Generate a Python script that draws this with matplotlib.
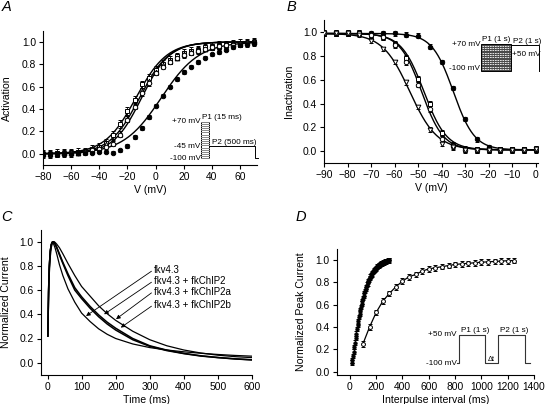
import matplotlib
matplotlib.use('Agg')
import numpy as np
import matplotlib.pyplot as plt
from matplotlib.patches import Rectangle

plt.rcParams['font.family'] = ['Liberation Sans', 'DejaVu Sans']
plt.rcParams['axes.linewidth'] = 0.8

# ---------------- Panel A: activation ----------------
act_v = [-80, -75, -70, -65, -60, -55, -50, -45, -40, -35, -30, -25, -20, -15, -10, -5,
         0, 5, 10, 15, 20, 25, 30, 35, 40, 45, 50, 55, 60, 65, 70]
act_sq = [0.00, 0.00, 0.01, 0.01, 0.01, 0.02, 0.02, 0.04, 0.06, 0.10, 0.17, 0.27, 0.38, 0.48, 0.62, 0.68,
          0.75, 0.80, 0.84, 0.87, 0.90, 0.92, 0.93, 0.95, 0.96, 0.97, 0.97, 0.98, 0.99, 0.99, 1.00]
act_tri = [0.00, 0.00, 0.00, 0.01, 0.01, 0.01, 0.02, 0.03, 0.05, 0.09, 0.10, 0.18, 0.31, 0.43, 0.56, 0.65,
           0.73, 0.79, 0.83, 0.86, 0.89, 0.91, 0.93, 0.94, 0.95, 0.96, 0.97, 0.98, 0.98, 0.99, 1.00]
act_circ = [0.00, 0.00, 0.00, 0.00, 0.01, 0.01, 0.02, 0.03, 0.04, 0.06, 0.09, 0.17, 0.30, 0.42, 0.54, 0.63,
            0.72, 0.78, 0.82, 0.86, 0.88, 0.90, 0.92, 0.94, 0.95, 0.96, 0.97, 0.97, 0.98, 0.99, 1.00]
act_fill = [0.00, 0.00, 0.00, 0.00, 0.00, 0.01, 0.01, 0.01, 0.02, 0.02, 0.01, 0.03, 0.07, 0.15, 0.23, 0.33,
            0.43, 0.52, 0.60, 0.67, 0.73, 0.78, 0.82, 0.86, 0.89, 0.91, 0.93, 0.95, 0.97, 0.98, 0.99]
act_err = [0.035, 0.025, 0.02, 0.015]
# Boltzmann fit parameters (V1/2, slope k)
act_fit = [(-14.0, 11.0), (-11.5, 10.5), (-10.0, 10.0), (4.0, 13.5)]

# ---------------- Panel B: inactivation ----------------
inact_v = [-90, -85, -80, -75, -70, -65, -60, -55, -50, -45, -40, -35, -30, -25, -20, -15, -10, -5, 0]
inact_fill = [0.99, 0.99, 0.99, 0.99, 0.99, 0.99, 0.99, 0.98, 0.97, 0.88, 0.75, 0.53, 0.27, 0.10, 0.03,
              0.01, 0.01, 0.01, 0.01]
inact_sq = [0.99, 0.99, 0.99, 0.99, 0.98, 0.96, 0.90, 0.78, 0.61, 0.40, 0.15, 0.05, 0.02, 0.01, 0.01,
            0.01, 0.01, 0.01, 0.01]
inact_circ = [0.99, 0.99, 0.99, 0.99, 0.98, 0.96, 0.89, 0.75, 0.56, 0.35, 0.10, 0.04, 0.01, 0.01, 0.01,
              0.01, 0.01, 0.01, 0.02]
inact_dtri = [0.99, 0.99, 0.99, 0.98, 0.93, 0.86, 0.75, 0.58, 0.37, 0.18, 0.06, 0.03, 0.01, 0.01, 0.01,
              0.01, 0.01, 0.01, 0.02]
inact_err = [0.02, 0.025, 0.025, 0.02]
inact_fit = [(-35.0, 4.5), (-47.5, 4.8), (-48.5, 4.6), (-53.5, 5.8)]

# ---------------- Panel C: normalized current traces ----------------
trace_t = [1, 3, 5, 8, 11, 14, 18, 22, 27, 35, 45, 60, 80, 100, 125, 150, 175, 200, 250, 300,
           350, 400, 450, 500, 550, 600]
trace_1 = [0.22, 0.60, 0.80, 0.93, 0.98, 1.00, 0.98, 0.95, 0.90, 0.81, 0.72, 0.61, 0.50, 0.41, 0.34,
           0.28, 0.235, 0.20, 0.155, 0.125, 0.105, 0.09, 0.078, 0.068, 0.06, 0.054]
trace_2 = [0.22, 0.58, 0.78, 0.92, 0.975, 0.995, 1.00, 0.98, 0.95, 0.89, 0.82, 0.72, 0.60, 0.53, 0.45,
           0.38, 0.32, 0.27, 0.19, 0.135, 0.10, 0.075, 0.055, 0.042, 0.031, 0.023]
trace_3 = [0.22, 0.58, 0.78, 0.92, 0.975, 0.995, 1.00, 0.985, 0.955, 0.90, 0.83, 0.735, 0.62, 0.545, 0.465,
           0.395, 0.335, 0.285, 0.20, 0.14, 0.104, 0.077, 0.057, 0.043, 0.032, 0.024]
trace_4 = [0.22, 0.50, 0.72, 0.87, 0.95, 0.985, 1.00, 0.995, 0.98, 0.95, 0.90, 0.82, 0.72, 0.63, 0.55,
           0.47, 0.405, 0.35, 0.26, 0.19, 0.14, 0.105, 0.08, 0.062, 0.05, 0.042]
trace_labels = ['fkv4.3', 'fkv4.3 + fkChIP2', 'fkv4.3 + fkChIP2a', 'fkv4.3 + fkChIP2b']
label_xy = [(311, 0.766), (311, 0.675), (311, 0.587), (311, 0.477)]
arrow_tip = [(113, 0.386), (166, 0.40), (201, 0.36), (215, 0.29)]

# ---------------- Panel D: recovery ----------------
rec_fast_t = [15, 20, 25, 30, 35, 40, 45, 50, 55, 60, 65, 70, 75, 80, 85, 90, 95, 100, 105, 110, 115, 120,
              125, 130, 135, 140, 145, 150, 155, 160, 165, 170, 175, 180, 185, 190, 195, 200, 205, 210,
              215, 220, 225, 230, 235, 240, 245, 250, 255, 260, 265, 270, 275, 280, 285, 290, 295, 300]
rec_fast = [0.08, 0.10, 0.14, 0.18, 0.22, 0.26, 0.30, 0.34, 0.38, 0.42, 0.45, 0.49, 0.52, 0.55, 0.58, 0.61,
            0.63, 0.66, 0.68, 0.70, 0.72, 0.74, 0.76, 0.78, 0.79, 0.81, 0.82, 0.84, 0.85, 0.86, 0.87, 0.88,
            0.89, 0.90, 0.91, 0.915, 0.92, 0.93, 0.935, 0.94, 0.945, 0.95, 0.955, 0.96, 0.963, 0.967, 0.97,
            0.973, 0.976, 0.979, 0.982, 0.985, 0.987, 0.99, 0.992, 0.994, 0.996, 0.998]
rec_slow_t = [100, 150, 200, 250, 300, 350, 400, 450, 500, 550, 600, 650, 700, 750, 800, 850, 900, 950,
              1000, 1050, 1100, 1150, 1200, 1250]
rec_slow = [0.25, 0.40, 0.53, 0.63, 0.70, 0.76, 0.81, 0.85, 0.87, 0.90, 0.92, 0.93, 0.94, 0.95, 0.96, 0.965,
            0.97, 0.975, 0.98, 0.983, 0.987, 0.99, 0.993, 0.995]

W, H = 548, 404
fig = plt.figure(figsize=(W / 100, H / 100), dpi=100)

TICK_FS = 7.4
LAB_FS = 7.6


def px_axes(x0, y0, x1, y1):
    return fig.add_axes([x0 / W, 1 - y1 / H, (x1 - x0) / W, (y1 - y0) / H])


def style(ax):
    for s in ['top', 'right']:
        ax.spines[s].set_visible(False)
    ax.tick_params(direction='out', length=3, width=0.8, labelsize=TICK_FS, pad=2)


def boltz_act(v, vh, k):
    return 1.0 / (1.0 + np.exp((vh - v) / k))


def boltz_inact(v, vh, k, top=0.99, bottom=0.01):
    return bottom + (top - bottom) / (1.0 + np.exp((v - vh) / k))


ebkw = dict(capsize=1.5, elinewidth=0.6, capthick=0.6, ls='none', color='black', mec='black',
            mew=0.7, zorder=3)
yt = [0.0, 0.2, 0.4, 0.6, 0.8, 1.0]
ytl = ['0.0', '0.2', '0.4', '0.6', '0.8', '1.0']

# ---- A ----
axA = px_axes(43, 30.7, 257, 165)
vfit = np.linspace(-80, 70, 300)
for vh, k in act_fit:
    axA.plot(vfit, boltz_act(vfit, vh, k), color='black', lw=1.0, zorder=2)
axA.errorbar(act_v, act_sq, yerr=act_err[0], marker='s', ms=3.2, mfc='white', **ebkw)
axA.errorbar(act_v, act_tri, yerr=act_err[1], marker='^', ms=3.4, mfc='white', **ebkw)
axA.errorbar(act_v, act_circ, yerr=act_err[2], marker='o', ms=3.2, mfc='white', **ebkw)
axA.errorbar(act_v, act_fill, yerr=act_err[3], marker='o', ms=3.2, mfc='black', **ebkw)
axA.set_xlim(-80, 72)
axA.set_ylim(-0.1, 1.1)
axA.set_xticks([-80, -60, -40, -20, 0, 20, 40, 60])
axA.set_yticks(yt)
axA.set_yticklabels(ytl)
axA.set_xlabel('V (mV)', fontsize=LAB_FS, labelpad=2)
axA.set_ylabel('Activation', fontsize=LAB_FS, labelpad=7)
style(axA)

# inset A protocol
insA = px_axes(201, 121.7, 258, 158.3)
insA.set_xlim(0, 57)
insA.set_ylim(-100, 70)
insA.axis('off')
for lev in range(-100, 71, 10):
    insA.plot([0, 8], [lev, lev], color='#888888', lw=0.7, clip_on=False)
insA.add_patch(Rectangle((0, -100), 8, 170, fill=False, ec='black', lw=0.7, clip_on=False))
insA.plot([8, 54, 54, 57], [-45, -45, -100, -100], color='black', lw=0.7, clip_on=False)
tk = dict(fontsize=5.9, clip_on=False)
insA.text(-0.5, 70, '+70 mV', ha='right', va='center', **tk)
insA.text(-0.5, -45, '-45 mV', ha='right', va='center', **tk)
insA.text(-0.5, -100, '-100 mV', ha='right', va='center', **tk)
insA.text(0.5, 73, 'P1 (15 ms)', ha='left', va='bottom', **tk)
insA.text(11, -42, 'P2 (500 ms)', ha='left', va='bottom', **tk)

# ---- B ----
axB = px_axes(324, 20.4, 538, 162.9)
vfitB = np.linspace(-90, 0, 300)
for vh, k in inact_fit:
    axB.plot(vfitB, boltz_inact(vfitB, vh, k), color='black', lw=1.0, zorder=2)
axB.errorbar(inact_v, inact_fill, yerr=inact_err[0], marker='o', ms=3.2, mfc='black', **ebkw)
axB.errorbar(inact_v, inact_sq, yerr=inact_err[1], marker='s', ms=3.2, mfc='white', **ebkw)
axB.errorbar(inact_v, inact_circ, yerr=inact_err[2], marker='o', ms=3.2, mfc='white', **ebkw)
axB.errorbar(inact_v, inact_dtri, yerr=inact_err[3], marker='v', ms=3.4, mfc='white', **ebkw)
axB.set_xlim(-90, 1)
axB.set_ylim(-0.1, 1.1)
axB.set_xticks(list(range(-90, 1, 10)))
axB.set_yticks(yt)
axB.set_yticklabels(ytl)
axB.set_xlabel('V (mV)', fontsize=LAB_FS, labelpad=2)
axB.set_ylabel('Inactivation', fontsize=LAB_FS, labelpad=6)
style(axB)

# inset B protocol
insB = px_axes(480.7, 44, 541, 70.7)
insB.set_xlim(0, 60.3)
insB.set_ylim(-100, 70)
insB.axis('off')
insB.add_patch(Rectangle((0, -100), 30, 170, fc='#4a4a4a', ec='black', lw=0.7, clip_on=False))
for lev in range(-90, 70, 15):
    insB.plot([1, 29], [lev, lev], color='white', lw=0.6, ls=(0, (2, 1)), clip_on=False)
insB.plot([30, 58.3, 58.3], [62, 62, -100], color='black', lw=0.7, clip_on=False)
insB.text(-0.5, 66, '+70 mV', ha='right', va='center', **tk)
insB.text(-0.5, -85, '-100 mV', ha='right', va='center', **tk)
insB.text(31, 0, '+50 mV', ha='left', va='center', **tk)
insB.text(1, 74, 'P1 (1 s)', ha='left', va='bottom', **tk)
insB.text(32, 64, 'P2 (1 s)', ha='left', va='bottom', **tk)

# ---- C ----
axC = px_axes(40.7, 229.6, 252, 374.8)
for tr, lw in zip([trace_1, trace_2, trace_3, trace_4], [0.9, 1.1, 1.1, 0.9]):
    axC.plot(trace_t, tr, color='black', lw=lw)
for lab, (lx, ly), (tx, ty) in zip(trace_labels, label_xy, arrow_tip):
    axC.annotate('', xy=(tx, ty), xytext=(lx - 6, ly - 0.01),
                 arrowprops=dict(arrowstyle='-|>', lw=0.6, color='black', mutation_scale=6,
                                 shrinkA=0, shrinkB=0))
    axC.text(lx, ly, lab, fontsize=7.0, ha='left', va='center')
axC.set_xlim(-20, 600)
axC.set_ylim(-0.1, 1.1)
axC.set_xticks([0, 100, 200, 300, 400, 500, 600])
axC.set_yticks(yt)
axC.set_yticklabels(ytl)
axC.set_xlabel('Time (ms)', fontsize=LAB_FS, labelpad=2)
axC.set_ylabel('Normalized Current', fontsize=LAB_FS, labelpad=6)
style(axC)

# ---- D ----
axD = px_axes(336.7, 248.8, 534, 375)
axD.errorbar(rec_fast_t, rec_fast, yerr=0.02, marker='o', ms=2.4, mfc='black', **ebkw)
axD.plot(rec_slow_t, rec_slow, color='black', lw=0.9, zorder=2)
axD.errorbar(rec_slow_t, rec_slow, yerr=0.025, marker='o', ms=2.8, mfc='white', **ebkw)
axD.set_xlim(-100, 1400)
axD.set_ylim(-0.03, 1.1)
axD.set_xticks([0, 200, 400, 600, 800, 1000, 1200, 1400])
axD.set_yticks(yt)
axD.set_yticklabels(ytl)
axD.set_xlabel('Interpulse interval (ms)', fontsize=LAB_FS, labelpad=2)
axD.set_ylabel('Normalized Peak Current', fontsize=LAB_FS, labelpad=7)
style(axD)

# inset D protocol
insD = px_axes(457, 335, 531, 363.3)
insD.set_xlim(0, 74)
insD.set_ylim(-100, 50)
insD.axis('off')
insD.plot([0, 2, 2, 28, 28, 41.3, 41.3, 68, 68, 73],
          [-100, -100, 50, 50, -100, -100, 50, 50, -100, -100], color='#333333', lw=0.8, clip_on=False)
insD.text(-0.5, 50, '+50 mV', ha='right', va='center', **tk)
insD.text(-0.5, -100, '-100 mV', ha='right', va='center', **tk)
insD.text(4, 53, 'P1 (1 s)', ha='left', va='bottom', **tk)
insD.text(43, 53, 'P2 (1 s)', ha='left', va='bottom', **tk)
insD.text(34.6, -97, 'Δt', ha='center', va='bottom', fontsize=5.3, clip_on=False)

# panel letters
for lab, x, y in [('A', 2, 7), ('B', 287, 7), ('C', 1, 217), ('D', 296, 217)]:
    fig.text(x / W, 1 - y / H, lab, fontsize=10.5, style='italic', ha='left', va='center')

fig.savefig('out.png', dpi=100)
